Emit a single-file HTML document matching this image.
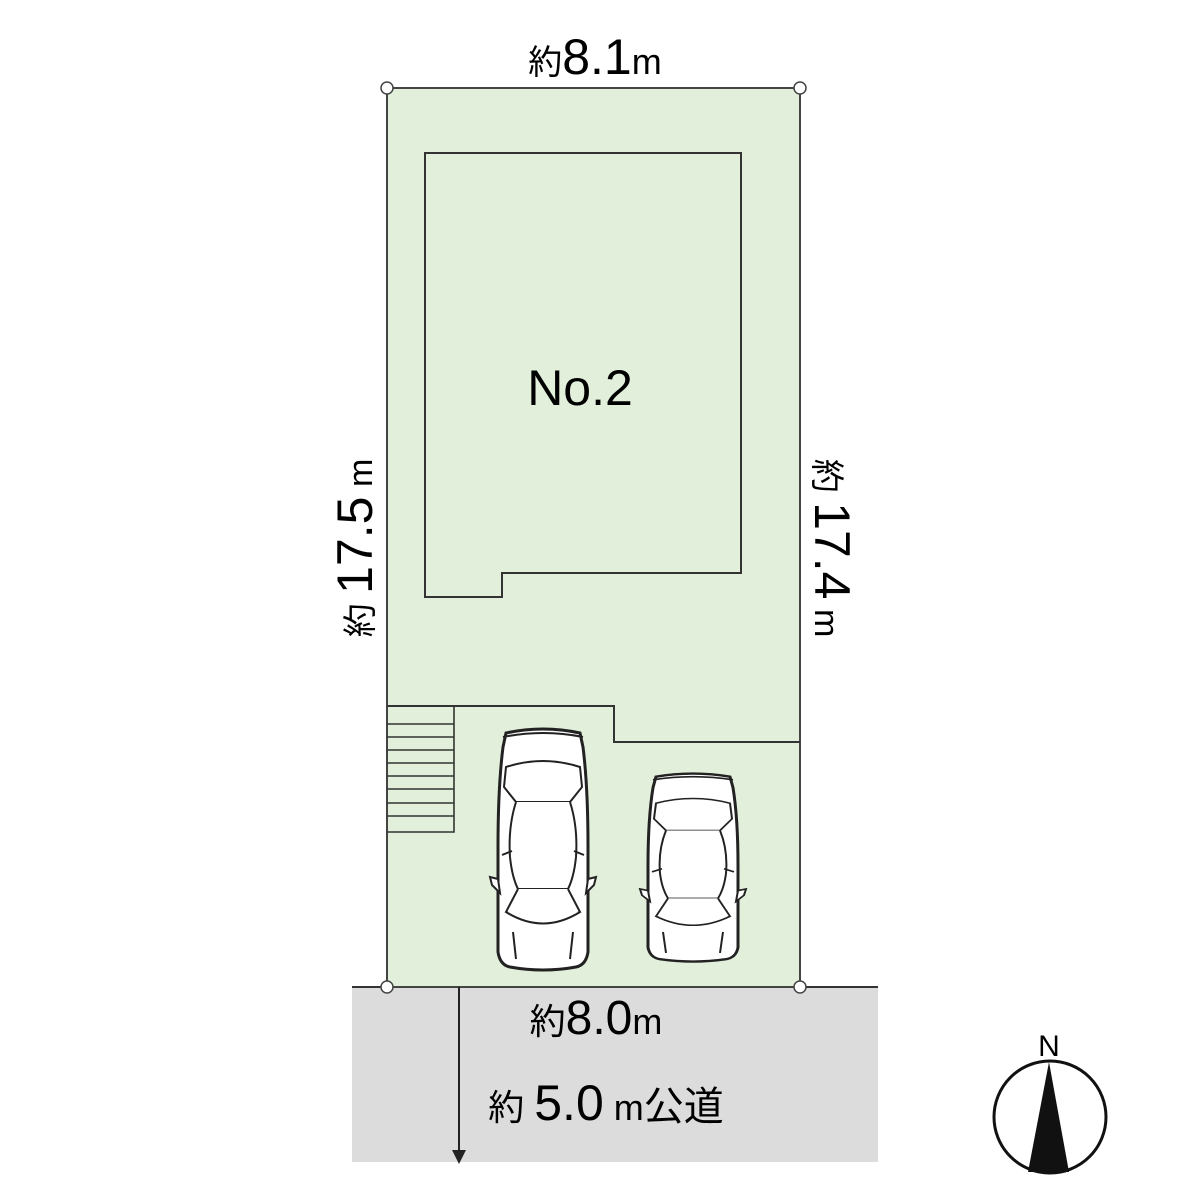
<!DOCTYPE html>
<html><head><meta charset="utf-8"><style>
html,body{margin:0;padding:0;background:#fff}
svg{display:block}
text{font-family:"Liberation Sans","Noto Sans CJK JP",sans-serif;fill:#000}
</style></head><body>
<svg width="1200" height="1200" viewBox="0 0 1200 1200" xmlns="http://www.w3.org/2000/svg">
<defs>
<g id="car" fill="#fff" stroke="#222" stroke-width="2">
  <path d="M8,6 Q45,-2 82,6 L85,20 Q90,60 90,120 L90,225 Q88,238 78,240 Q45,246 12,240 Q2,238 0,225 L0,120 Q0,60 5,20 Z" stroke-width="3"/>
  <path d="M5,10 Q45,2 85,10"/>
  <path d="M8,40 Q45,28 82,40 L84,60 L72,75 L18,75 L6,60 Z"/>
  <path d="M18,75 Q10,100 12,130 Q14,150 20,162 L70,162 Q76,150 78,130 Q80,100 72,75"/>
  <path d="M20,162 L8,185 Q45,200 82,185 L70,162"/>
  <path d="M8,185 Q45,208 82,185"/>
  <path d="M4,128 L14,124 M86,128 L76,124"/>
  <path d="M0,152 L-8,150 L-6,158 L2,166 Z M90,152 L98,150 L96,158 L88,166 Z"/>
  <path d="M15,205 L18,232 M75,205 L72,232"/>
</g>
</defs>
<rect x="352" y="987" width="526" height="175" fill="#dcdcdc"/>
<line x1="352" y1="987" x2="878" y2="987" stroke="#333" stroke-width="2"/>
<rect x="387" y="88" width="413" height="899" fill="#e2efda" stroke="#444" stroke-width="2"/>
<path d="M425,153 L741,153 L741,573 L502,573 L502,597 L425,597 Z" fill="none" stroke="#333" stroke-width="2"/>
<path d="M387,706 L614,706 L614,742 L800,742" fill="none" stroke="#333" stroke-width="2"/>
<g stroke="#333" stroke-width="1.6" fill="none">
<path d="M387,832 L454,832 L454,706"/>
<path d="M387,724H454M387,737H454M387,750H454M387,763H454M387,776H454M387,789H454M387,803H454M387,816H454"/>
</g>
<use href="#car" transform="translate(498,727) scale(1,1)"/>
<use href="#car" transform="translate(648,772) scale(1,0.78)"/>
<g fill="#fff" stroke="#444" stroke-width="1.5">
<circle cx="387" cy="88" r="6"/><circle cx="800" cy="88" r="6"/>
<circle cx="387" cy="987" r="6"/><circle cx="800" cy="987" r="6"/>
</g>
<line x1="459" y1="987" x2="459" y2="1152" stroke="#222" stroke-width="2"/>
<path d="M452,1150 L466,1150 L459,1164 Z" fill="#222"/>
<text x="580" y="405" font-size="50" text-anchor="middle">No.2</text>
<text x="595" y="74" text-anchor="middle"><tspan font-size="34">約</tspan><tspan font-size="50">8.1</tspan><tspan font-size="36">m</tspan></text>
<text x="596" y="1034" text-anchor="middle"><tspan font-size="36">約</tspan><tspan font-size="48">8.0</tspan><tspan font-size="36">m</tspan></text>
<text transform="translate(372,548) rotate(-90)" text-anchor="middle"><tspan font-size="34">約 </tspan><tspan font-size="50">17.5</tspan><tspan font-size="34"> m</tspan></text>
<text transform="translate(815,548) rotate(90)" text-anchor="middle"><tspan font-size="34">約 </tspan><tspan font-size="50">17.4</tspan><tspan font-size="34"> m</tspan></text>
<text x="606" y="1120" text-anchor="middle"><tspan font-size="36">約 </tspan><tspan font-size="50">5.0</tspan><tspan font-size="36"> m</tspan><tspan font-size="40">公道</tspan></text>
<circle cx="1050" cy="1117" r="56" fill="#fff" stroke="#111" stroke-width="3"/>
<path d="M1049,1062 L1069,1172 L1028,1172 Z" fill="#111"/>
<text x="1049" y="1056" font-size="30" text-anchor="middle">N</text>
</svg>
</body></html>
